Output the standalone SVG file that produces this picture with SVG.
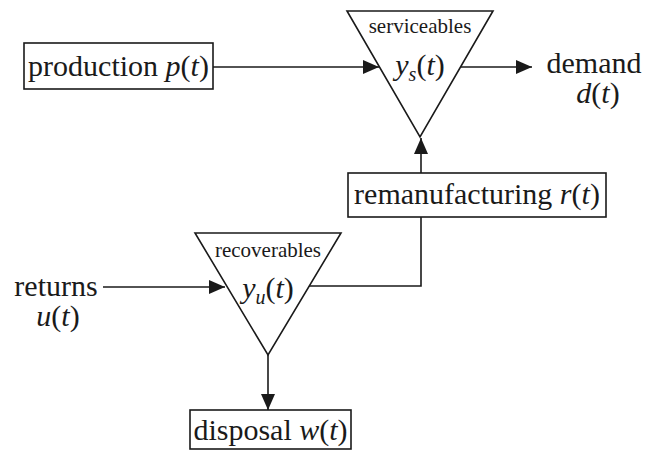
<svg xmlns="http://www.w3.org/2000/svg" width="646" height="451" viewBox="0 0 646 451">
<style>
.big{font-size:30px}
.small{font-size:21px}
.it{font-style:italic}
.sub{font-size:20px;font-style:italic}
.box{fill:#fff;stroke:#1a1a1a;stroke-width:1.6}
.ln{fill:none;stroke:#1a1a1a;stroke-width:1.6}
</style>
<defs>
<marker id="ah" markerUnits="userSpaceOnUse" markerWidth="17" markerHeight="14" refX="16" refY="7" orient="auto">
<path d="M0,0 L16,7 L0,14 z" fill="#1a1a1a"/>
</marker>
</defs>
<g id="connectors">
<line class="ln" x1="213" y1="67" x2="379" y2="67" marker-end="url(#ah)"/>
<line class="ln" x1="461" y1="67" x2="532" y2="67" marker-end="url(#ah)"/>
<line class="ln" x1="421" y1="173" x2="421" y2="138" marker-end="url(#ah)"/>
<polyline class="ln" points="309,286 421,286 421,217"/>
<line class="ln" x1="103" y1="287" x2="225" y2="287" marker-end="url(#ah)"/>
<line class="ln" x1="268" y1="355" x2="268" y2="410" marker-end="url(#ah)"/>
</g>
<g font-family="Liberation Serif, DejaVu Serif, serif" fill="#1a1a1a">
<g id="production">
<rect class="box" x="24" y="43" width="189" height="46"/>
<text class="big" x="118.5" y="76" text-anchor="middle">production <tspan class="it">p</tspan>(<tspan class="it">t</tspan>)</text>
</g>
<g id="serviceables">
<polygon class="box" points="347,11 493,11 420,137"/>
<text class="small" x="420" y="33" text-anchor="middle">serviceables</text>
<text class="big" x="420" y="75" text-anchor="middle"><tspan class="it">y</tspan><tspan class="sub" dy="6">s</tspan><tspan dy="-6">(</tspan><tspan class="it">t</tspan>)</text>
</g>
<g id="demand">
<text class="big" x="594" y="73" text-anchor="middle">demand</text>
<text class="big" x="598" y="103" text-anchor="middle"><tspan class="it">d</tspan>(<tspan class="it">t</tspan>)</text>
</g>
<g id="remanufacturing">
<rect class="box" x="348" y="173" width="258" height="44"/>
<text class="big" x="477" y="204" text-anchor="middle">remanufacturing <tspan class="it">r</tspan>(<tspan class="it">t</tspan>)</text>
</g>
<g id="recoverables">
<polygon class="box" points="195,233 341,233 268,355"/>
<text class="small" x="268" y="257" text-anchor="middle">recoverables</text>
<text class="big" x="268" y="298" text-anchor="middle"><tspan class="it">y</tspan><tspan class="sub" dy="6">u</tspan><tspan dy="-6">(</tspan><tspan class="it">t</tspan>)</text>
</g>
<g id="returns">
<text class="big" x="56" y="296" text-anchor="middle">returns</text>
<text class="big" x="58" y="326" text-anchor="middle"><tspan class="it">u</tspan>(<tspan class="it">t</tspan>)</text>
</g>
<g id="disposal">
<rect class="box" x="190" y="410" width="161" height="39"/>
<text class="big" x="270.5" y="440" text-anchor="middle">disposal <tspan class="it">w</tspan>(<tspan class="it">t</tspan>)</text>
</g>
</g>
</svg>
